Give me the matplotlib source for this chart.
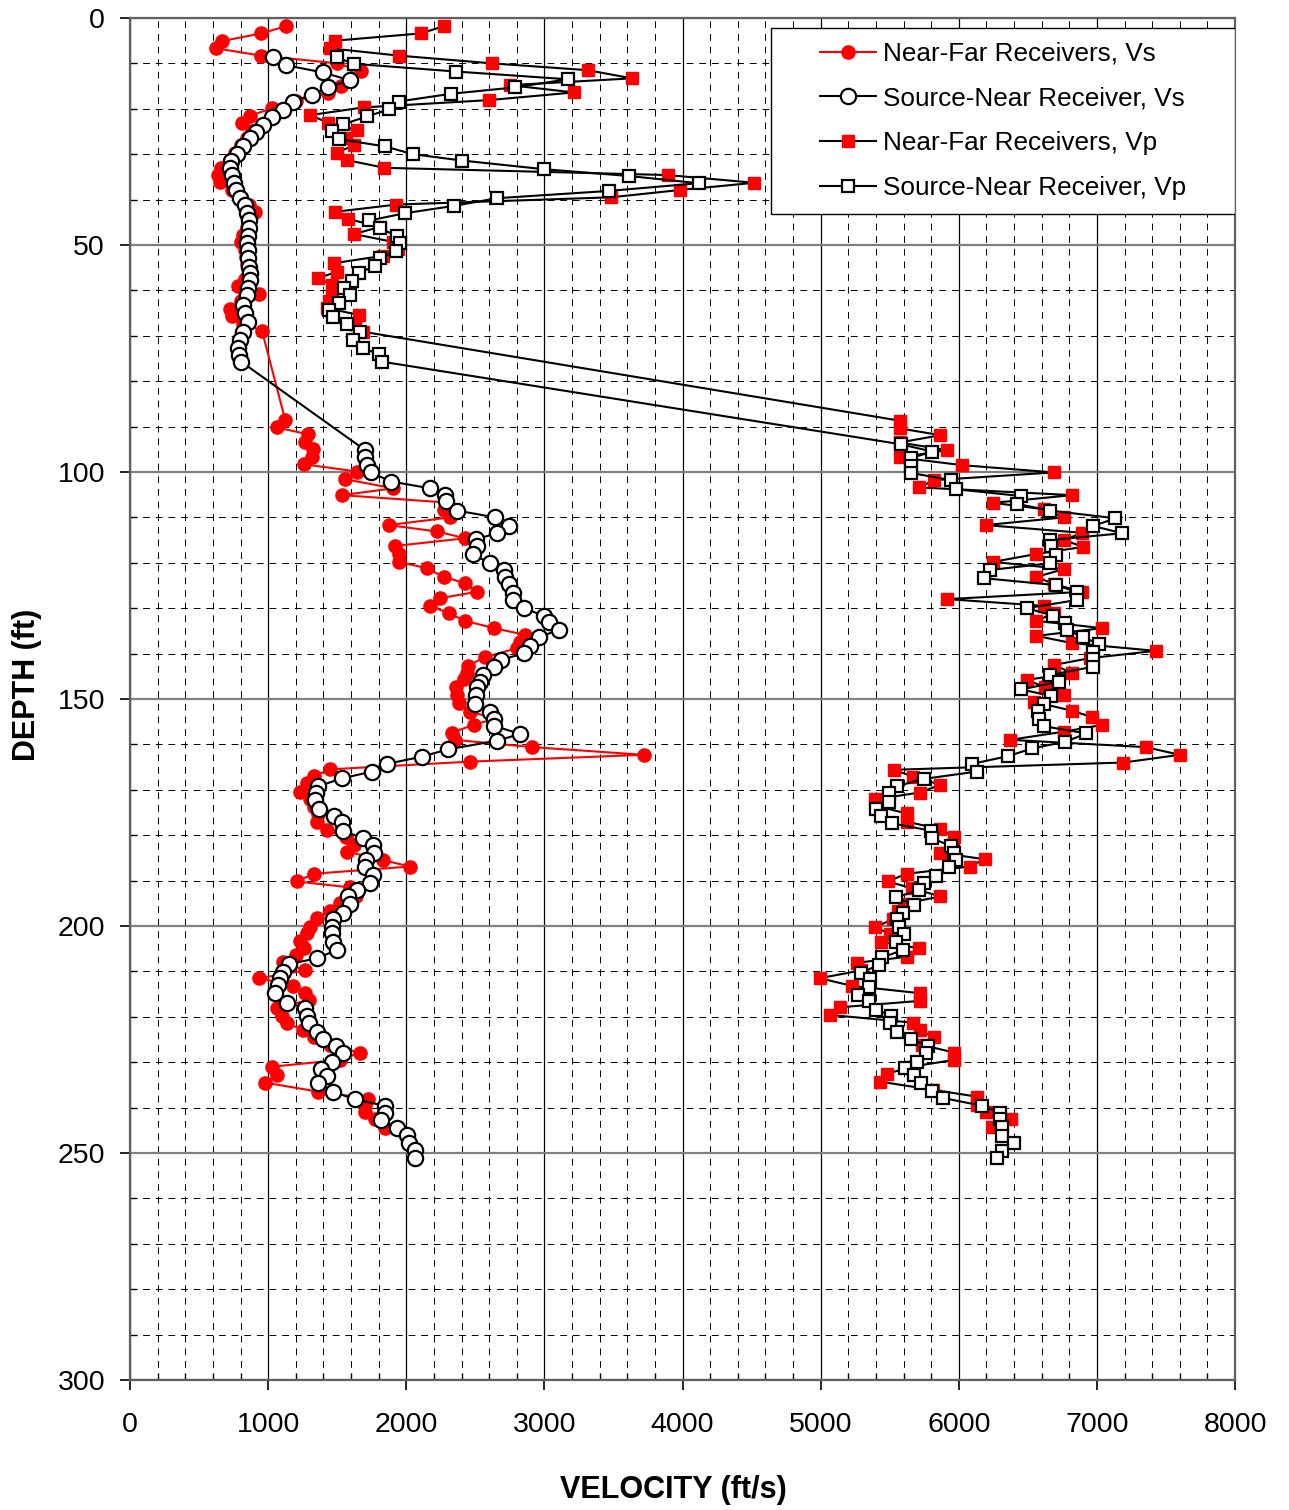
import numpy as np
import matplotlib.pyplot as plt
from matplotlib.patches import Rectangle

plt.rcParams['font.family'] = ['Liberation Sans', 'DejaVu Sans']

# Near-Far Receivers, Vs
d_nf_vs = [1.8, 3.4, 5.1, 6.7, 8.3, 10.0, 11.6, 13.3, 14.9, 16.6,
           18.2, 19.9, 21.5, 23.1, 24.8, 26.4, 28.0, 29.7, 31.3, 33.0,
           34.6, 36.2, 37.9, 39.5, 41.1, 42.8, 44.4, 46.0, 47.7, 49.3,
           51.0, 52.6, 54.2, 55.9, 57.5, 59.1, 60.8, 62.4, 64.0, 65.7,
           67.3, 68.9, 88.5, 90.2, 91.7, 93.3, 95.0, 96.6, 98.3, 99.9,
           101.6, 103.6, 105.1, 106.7, 108.4, 110.0, 111.7, 113.1, 114.6, 116.3,
           118.1, 119.8, 121.2, 123.1, 124.5, 126.4, 127.8, 129.5, 131.1, 132.8,
           134.4, 135.9, 137.4, 138.8, 140.8, 142.7, 144.2, 145.7, 147.4, 149.1,
           150.8, 152.8, 154.3, 155.7, 157.4, 159.0, 160.6, 162.3, 163.8, 165.5,
           167.0, 168.6, 170.4, 172.0, 173.7, 175.3, 177.0, 178.9, 180.5, 182.2,
           183.6, 185.5, 186.9, 188.5, 190.2, 191.5, 193.5, 195.0, 196.6, 198.3,
           200.2, 201.6, 203.2, 204.9, 206.4, 207.9, 209.8, 211.5, 213.2, 214.7,
           216.3, 218.1, 219.8, 221.4, 222.9, 224.4, 226.2, 227.9, 229.5, 231.0,
           232.8, 234.5, 236.5, 238.0, 239.4, 240.9, 242.6, 244.6]
v_nf_vs = [1130, 950, 665, 625, 950, 1500, 1670, 1600, 1530, 1430,
           1200, 1030, 870, 810, 880, 850, 800, 760, 720, 660,
           640, 650, 740, 800, 860, 905, 860, 850, 820, 800,
           830, 840, 850, 860, 830, 785, 930, 800, 725, 740,
           820, 955, 1123, 1063, 1290, 1270, 1325, 1320, 1256, 1642,
           1557, 1907, 1533, 2280, 2270, 2318, 1871, 2221, 2426, 1919,
           1944, 1944, 2149, 2270, 2426, 2511, 2245, 2173, 2306, 2426,
           2637, 2861, 2825, 2801, 2571, 2443, 2440, 2414, 2361, 2370,
           2378, 2458, 2644, 2487, 2330, 2350, 2910, 3718, 2458, 1449,
           1328, 1280, 1231, 1300, 1330, 1360, 1352, 1425, 1560, 1618,
           1570, 1830, 2028, 1328, 1207, 1593, 1637, 1521, 1449, 1352,
           1304, 1280, 1231, 1256, 1200, 1106, 1268, 937, 1183, 1268,
           1292, 1063, 1099, 1139, 1250, 1328, 1450, 1666, 1521, 1026,
           1063, 978, 1364, 1726, 1700, 1702, 1775, 1847]

# Source-Near Receiver, Vs
d_sn_vs = [8.7, 10.4, 12.0, 13.7, 15.3, 16.9, 18.4, 20.2, 21.8, 23.6,
           25.1, 26.5, 28.3, 30.0, 31.6, 33.1, 34.6, 36.3, 37.9, 39.6,
           41.2, 43.0, 44.6, 46.3, 48.0, 49.5, 51.1, 52.9, 54.8, 56.2,
           57.7, 59.5, 61.0, 63.2, 65.0, 66.9, 69.1, 70.9, 72.8, 74.2,
           75.7, 95.2, 96.8, 98.4, 100.1, 102.1, 103.6, 105.1, 106.5, 108.5,
           110.0, 111.9, 113.5, 114.8, 116.4, 118.1, 120.1, 121.7, 123.2, 124.7,
           126.6, 128.2, 130.0, 131.7, 133.0, 134.8, 136.4, 138.3, 139.9, 141.4,
           143.0, 144.7, 146.2, 147.4, 149.1, 151.1, 152.8, 154.3, 155.9, 157.7,
           159.2, 161.1, 162.7, 164.3, 166.0, 167.5, 169.2, 170.8, 172.2, 174.3,
           175.8, 177.0, 179.0, 180.7, 182.2, 183.9, 185.5, 187.1, 188.8, 190.6,
           192.1, 193.5, 195.2, 197.1, 198.5, 200.2, 201.6, 203.5, 205.3, 207.1,
           208.4, 210.1, 211.5, 213.0, 214.8, 216.9, 218.1, 219.8, 221.4, 223.3,
           225.0, 226.4, 228.0, 229.9, 231.6, 233.0, 234.6, 236.5, 238.2, 239.6,
           241.1, 242.7, 244.6, 246.0, 247.9, 249.3, 251.2]
v_sn_vs = [1033, 1127, 1395, 1590, 1432, 1318, 1178, 1106, 1026, 961,
           913, 869, 821, 777, 732, 724, 736, 753, 768, 797,
           833, 850, 864, 864, 857, 850, 852, 857, 862, 869,
           869, 857, 845, 816, 833, 857, 821, 797, 785, 792,
           804, 1702, 1702, 1714, 1745, 1888, 2173, 2282, 2289, 2366,
           2644, 2740, 2656, 2506, 2511, 2482, 2603, 2709, 2716, 2740,
           2772, 2772, 2854, 2994, 3030, 3102, 2958, 2892, 2854, 2685,
           2632, 2555, 2530, 2511, 2506, 2499, 2608, 2632, 2632, 2825,
           2656, 2299, 2113, 1859, 1750, 1533, 1364, 1347, 1340, 1371,
           1473, 1533, 1540, 1685, 1758, 1767, 1709, 1702, 1758, 1738,
           1646, 1581, 1593, 1545, 1468, 1461, 1461, 1468, 1497, 1352,
           1154, 1106, 1087, 1074, 1050, 1139, 1268, 1280, 1299, 1352,
           1395, 1492, 1545, 1461, 1381, 1425, 1357, 1468, 1630, 1847,
           1847, 1816, 1936, 2004, 2016, 2064, 2064]

# Near-Far Receivers, Vp
d_nf_vp = [1.8, 3.4, 5.0, 6.7, 8.3, 10.0, 11.5, 13.3, 14.8, 16.4,
           18.1, 19.7, 21.4, 23.1, 24.7, 26.4, 28.0, 29.7, 31.3, 33.0,
           34.6, 36.3, 37.9, 39.5, 41.1, 42.7, 44.3, 46.0, 47.6, 49.3,
           50.9, 52.4, 54.0, 55.9, 57.3, 58.8, 61.0, 62.4, 63.9, 65.4,
           67.3, 69.1, 88.7, 90.4, 91.9, 93.5, 95.2, 96.8, 98.5, 100.1,
           101.8, 103.4, 105.1, 106.8, 108.2, 110.0, 111.7, 113.4, 115.0, 116.5,
           118.1, 119.8, 121.4, 123.1, 124.7, 126.4, 128.0, 129.5, 131.1, 132.8,
           134.4, 136.1, 137.7, 139.4, 141.0, 142.5, 144.3, 145.8, 147.4, 149.1,
           150.6, 152.6, 154.0, 155.7, 157.2, 159.0, 160.6, 162.3, 164.0, 165.6,
           167.1, 168.9, 170.6, 172.1, 173.7, 175.2, 177.0, 178.7, 180.5, 182.2,
           183.9, 185.3, 186.9, 188.5, 190.2, 191.7, 193.5, 195.1, 196.8, 198.5,
           200.2, 201.8, 203.5, 204.9, 206.8, 208.1, 209.8, 211.5, 213.2, 214.8,
           216.5, 217.9, 219.6, 221.3, 222.9, 224.5, 226.2, 227.9, 229.5, 231.0,
           232.6, 234.3, 236.1, 237.6, 239.4, 240.9, 242.6, 244.2]
v_nf_vp = [2274, 2105, 1485, 1449, 1948, 2620, 3313, 3634, 2747, 3215,
           2595, 1690, 1304, 1436, 1642, 1560, 1622, 1497, 1570, 1840,
           3892, 4520, 3979, 3482, 1927, 1485, 1581, 1810, 1622, 1900,
           1940, 1830, 1478, 1497, 1364, 1461, 1461, 1440, 1425, 1654,
           1630, 1685, 5572, 5572, 5867, 5572, 5915, 5572, 6024, 6688,
           5819, 5715, 6820, 6248, 6616, 6761, 6193, 6893, 6761, 6900,
           6555, 6248, 6761, 6562, 6688, 6893, 5915, 6616, 6688, 6562,
           7038, 6562, 6820, 7424, 6950, 6688, 6820, 6490, 6627, 6761,
           6543, 6820, 6965, 7038, 6761, 6370, 7352, 7600, 7190, 5529,
           5669, 5867, 5717, 5396, 5420, 5621, 5621, 5867, 5968, 5950,
           5867, 6186, 6079, 5621, 5485, 5662, 5867, 5600, 5560, 5524,
           5396, 5500, 5437, 5710, 5621, 5263, 5290, 4993, 5227, 5717,
           5717, 5143, 5070, 5669, 5717, 5819, 5734, 5968, 5968, 5650,
           5481, 5432, 5814, 6133, 6133, 6193, 6379, 6242]

# Source-Near Receiver, Vp
d_sn_vp = [8.7, 10.1, 11.8, 13.5, 15.3, 16.7, 18.4, 20.1, 21.7, 23.4,
           25.0, 26.7, 28.3, 30.0, 31.4, 33.3, 34.8, 36.4, 38.1, 39.7,
           41.4, 43.0, 44.6, 46.3, 48.0, 49.5, 51.3, 52.9, 54.6, 56.2,
           57.9, 59.5, 61.0, 62.8, 64.3, 65.8, 67.5, 69.1, 70.9, 72.6,
           74.1, 75.7, 93.9, 95.5, 97.0, 98.6, 100.2, 101.8, 103.8, 105.3,
           107.0, 108.5, 110.2, 111.9, 113.5, 115.0, 116.4, 118.3, 120.1, 121.6,
           123.4, 124.9, 126.4, 128.2, 130.0, 131.7, 133.2, 134.8, 136.4, 137.9,
           139.6, 141.3, 142.9, 144.7, 146.2, 147.9, 149.3, 151.0, 152.6, 154.5,
           156.0, 157.6, 159.4, 160.9, 162.6, 164.3, 166.0, 167.6, 169.2, 170.6,
           172.6, 174.3, 175.8, 177.4, 179.0, 180.7, 182.4, 183.9, 185.5, 187.1,
           189.0, 190.5, 192.1, 193.7, 195.4, 197.1, 198.5, 200.2, 201.8, 203.5,
           205.3, 206.9, 208.6, 210.3, 211.7, 213.5, 215.2, 216.5, 218.4, 219.8,
           221.4, 223.3, 225.0, 226.4, 228.0, 229.9, 231.3, 232.8, 234.5, 236.3,
           237.9, 239.6, 241.1, 242.6, 244.3, 246.3, 247.9, 249.5, 251.2]
v_sn_vp = [1497, 1622, 2361, 3168, 2784, 2323, 1944, 1878, 1714, 1545,
           1461, 1516, 1847, 2047, 2402, 2994, 3609, 4116, 3465, 2656,
           2342, 1992, 1733, 1806, 1932, 1951, 1927, 1811, 1775, 1654,
           1606, 1550, 1593, 1516, 1437, 1468, 1570, 1666, 1613, 1685,
           1799, 1823, 5580, 5806, 5650, 5650, 5650, 5944, 5976, 6451,
           6418, 6659, 7134, 6973, 7183, 6659, 6664, 6700, 6659, 6224,
           6181, 6700, 6852, 6852, 6494, 6683, 6772, 6785, 6900, 7014,
           6973, 6973, 6973, 6659, 6724, 6451, 6664, 6620, 6572, 6579,
           6616, 6924, 6772, 6531, 6354, 6096, 6128, 5746, 5553, 5492,
           5492, 5403, 5437, 5517, 5795, 5807, 5944, 5968, 5976, 5927,
           5831, 5746, 5710, 5548, 5674, 5597, 5553, 5565, 5601, 5548,
           5597, 5445, 5420, 5293, 5360, 5348, 5268, 5348, 5403, 5510,
           5505, 5553, 5650, 5775, 5765, 5698, 5613, 5674, 5727, 5807,
           5887, 6169, 6297, 6297, 6314, 6314, 6398, 6314, 6278]

labels = ['Near-Far Receivers, Vs', 'Source-Near Receiver, Vs',
          'Near-Far Receivers, Vp', 'Source-Near Receiver, Vp']

fig = plt.figure(figsize=(12.89, 15.10), dpi=100)
ax = fig.add_axes([0.1009, 0.0861, 0.8573, 0.902])

ax.plot(v_nf_vs, d_nf_vs, '-o', color='red', lw=1.5, ms=9.5,
        mfc='red', mec='red', label=labels[0], zorder=3)
ax.plot(v_sn_vs, d_sn_vs, '-o', color='black', lw=1.5, ms=11,
        mfc='white', mec='black', mew=1.6, label=labels[1], zorder=3)
ax.plot(v_nf_vp, d_nf_vp, '-s', color='black', lw=1.5, ms=9,
        mfc='red', mec='red', label=labels[2], zorder=3)
ax.plot(v_sn_vp, d_sn_vp, '-s', color='black', lw=1.5, ms=8.5,
        mfc='white', mec='black', mew=1.6, label=labels[3], zorder=3)

ax.set_xlim(0, 8000)
ax.set_ylim(300, 0)
ax.set_xticks(np.arange(0, 8001, 1000))
ax.set_xticks(np.arange(0, 8001, 200), minor=True)
ax.set_yticks(np.arange(0, 301, 50))
ax.set_yticks(np.arange(0, 301, 10), minor=True)

ax.set_axisbelow(True)
ax.grid(which='minor', linestyle=(0, (7, 6)), color='black', lw=0.7)
ax.grid(which='major', axis='x', color='black', lw=0.9)
ax.grid(which='major', axis='y', color='#808080', lw=1.6)

ax.tick_params(which='major', direction='out', length=7, width=1.2,
               labelsize=20.5)
ax.tick_params(axis='x', which='major', pad=16)
ax.tick_params(axis='y', which='major', pad=11)
ax.tick_params(which='minor', direction='in', length=5, width=1)
for s in ax.spines.values():
    s.set_color('#606060')
    s.set_linewidth(1.6)

ax.set_xlabel('VELOCITY (ft/s)', fontsize=22, fontweight='bold')
ax.set_ylabel('DEPTH (ft)', fontsize=22, fontweight='bold')
ax.xaxis.set_label_coords(0.4914, -0.0695)
ax.yaxis.set_label_coords(-0.0796, 0.51)

# legend box
ax.add_patch(Rectangle((0.580, 0.8561), 0.420, 0.1366, transform=ax.transAxes,
                       facecolor='white', edgecolor='black', lw=1.0, zorder=4))
leg = ax.legend(loc='center', bbox_to_anchor=(0.790, 0.9244), frameon=False,
                fontsize=18.8, handlelength=2.15, handletextpad=0.25,
                labelspacing=0.79, borderpad=0)
leg.set_zorder(5)

fig.savefig('out.png', dpi=100)
